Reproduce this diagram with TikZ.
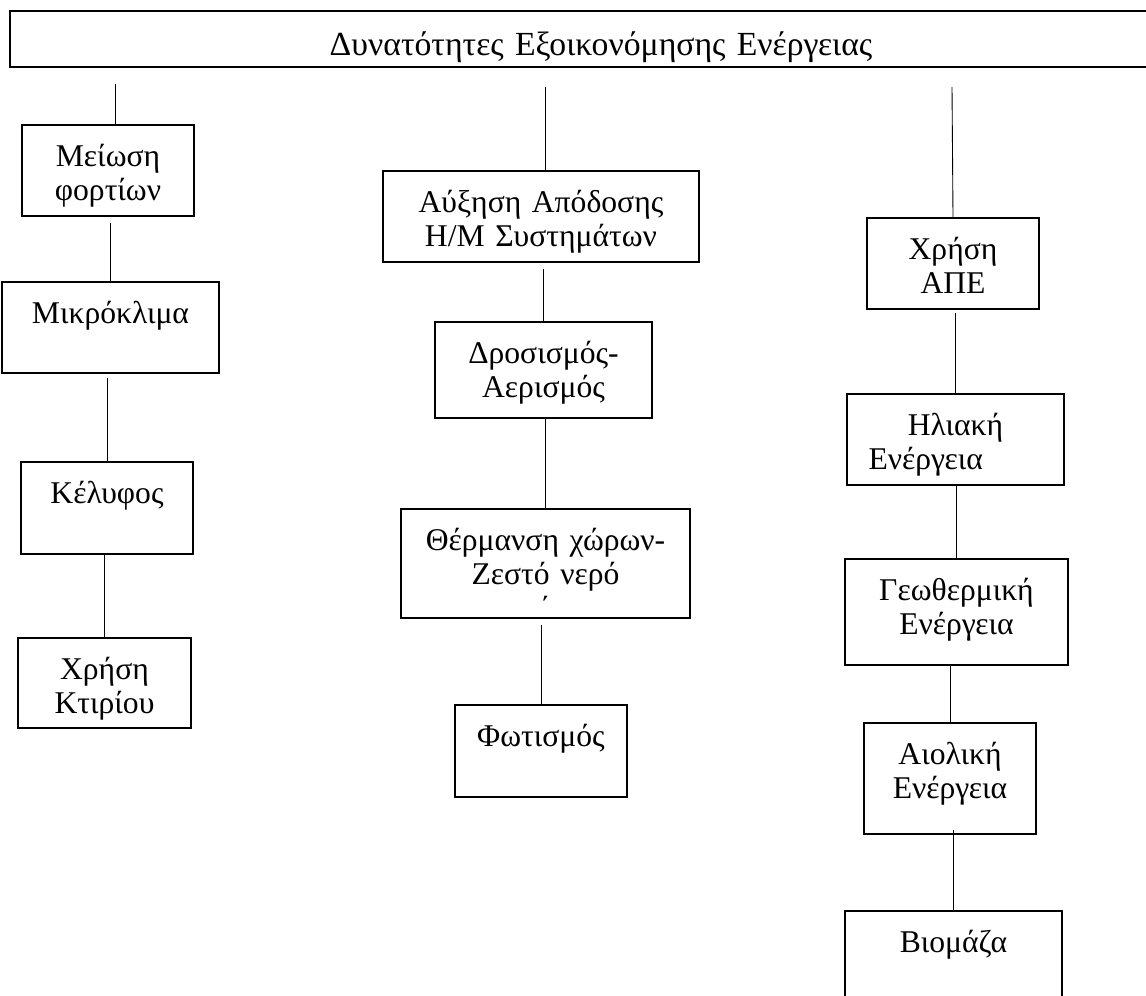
\documentclass[tikz,border=0pt]{standalone}
\usepackage{fontspec}
\setmainfont{Liberation Serif}
\usetikzlibrary{calc}

\begin{document}
\begin{tikzpicture}[x=0.2mm, y=-0.2mm,
  font=\fontsize{18pt}{19.35pt}\selectfont,
  cell/.style={draw, line width=1pt, anchor=north, inner sep=0pt,
               align=center, text height=8.4mm},
  link/.style={line width=.5pt},
]
\useasboundingbox (0,0) rectangle (1146,996);

% title bar
\node[cell, text width=236.4mm, text height=9mm, text depth=2.2mm,
      font=\fontsize{19.2pt}{21pt}\selectfont] (title) at (601,10)
  {Δυνατότητες Εξοικονόμησης Ενέργειας};

% left column
\node[cell, text width=34.4mm, text depth=9.8mm] (meiosi) at (108,124) {Μείωση\\ φορτίων};
\node[cell, text width=43.4mm, text depth=9.8mm] (mikro) at (110.5,281) {Μικρόκλιμα};
\node[cell, text width=34.4mm, text depth=10mm] (kelyfos) at (107,461) {Κέλυφος};
\node[cell, text width=34.6mm, text depth=9.6mm] (xrisi) at (104.5,637) {Χρήση\\ Κτιρίου};

% middle column
\node[cell, text width=63.2mm, text depth=9.8mm] (ayxisi) at (541,170) {Αύξηση Απόδοσης\\ Η/Μ Συστημάτων};
\node[cell, text width=43.4mm, text depth=10.8mm] (drosismos) at (543.5,321) {Δροσισμός-\\ Αερισμός};
\node[cell, text width=57.8mm, text depth=13.4mm] (thermansi) at (545.5,508) {Θέρμανση χώρων-\\ Ζεστό νερό\\ ΄};
\node[cell, text width=34.4mm, text depth=10mm] (fotismos) at (541,704) {Φωτισμός};

% right column
\node[cell, text width=34.4mm, text depth=9.8mm] (ape) at (953,217) {Χρήση\\ ΑΠΕ};
\node[cell, text width=43.4mm, text depth=9.8mm] (iliaki) at (955.5,393) {Ηλιακή\\ \makebox[34.8mm][l]{Ενέργεια}};
\node[cell, text width=44.6mm, text depth=12.8mm] (geo) at (956.5,558) {Γεωθερμική\\ Ενέργεια};
\node[cell, text width=34.4mm, text depth=13.8mm] (aioliki) at (950,722) {Αιολική\\ Ενέργεια};
\node[cell, text width=43.4mm, text depth=13.6mm] (viomaza) at (953.5,910) {Βιομάζα};

% loose ends under the title bar
\coordinate (t1) at (115,84);
\coordinate (t2) at (545,87);
\coordinate (t3) at (952,87);
\draw[link] (t1) -- (t1 |- meiosi.north);
\draw[link] (t2) -- (t2 |- ayxisi.north);
\draw[link] (t3) -- (ape.north);

% connectors
\draw[link] ($(meiosi.south -| mikro.north)+(0,6)$) -- (mikro.north);
\draw[link] ($(mikro.south -| kelyfos.north)+(0,4)$) -- (kelyfos.north);
\draw[link] (kelyfos.south -| xrisi.north) -- (xrisi.north);
\draw[link] ($(ayxisi.south -| drosismos.north)+(0,6)$) -- (drosismos.north);
\draw[link] (drosismos.south -| thermansi.north) -- (thermansi.north);
\draw[link] ($(thermansi.south -| fotismos.north)+(0,6)$) -- (fotismos.north);
\draw[link] ($(ape.south -| iliaki.north)+(0,3)$) -- (iliaki.north);
\draw[link] (iliaki.south -| geo.north) -- (geo.north);
\draw[link] (geo.south -| aioliki.north) -- (aioliki.north);
\draw[link] ($(aioliki.south -| viomaza.north)+(0,-5)$) -- (viomaza.north);
\end{tikzpicture}
\end{document}
